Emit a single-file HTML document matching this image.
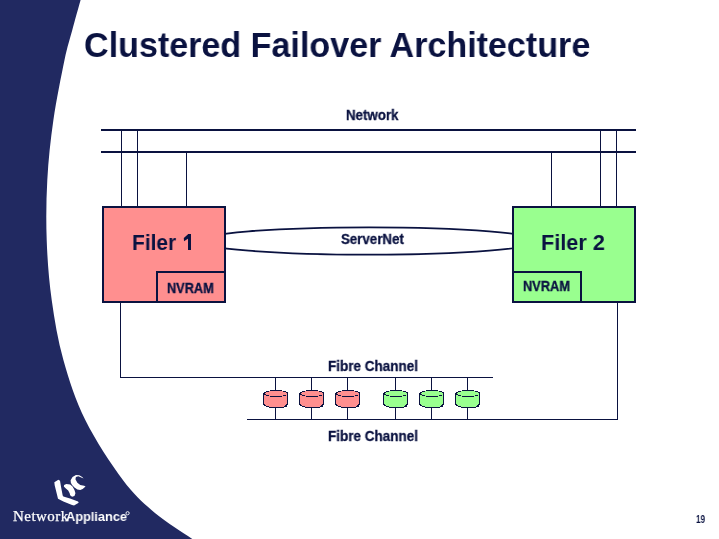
<!DOCTYPE html>
<html><head><meta charset="utf-8">
<style>
html,body{margin:0;padding:0;background:#fff;}
body{width:719px;height:539px;position:relative;overflow:hidden;font-family:"Liberation Sans",sans-serif;}
svg{position:absolute;left:0;top:0;}
.t{position:absolute;will-change:transform;white-space:nowrap;font-weight:700;color:#0a1240;line-height:1;transform-origin:0 0;}
</style></head><body>
<svg width="719" height="539" viewBox="0 0 719 539">
  <path fill="#212961" d="M0,-1 L80.6,0.0 C78.5,7.5 75.0,20.0 72.3,30.0 C69.6,40.0 67.7,45.0 64.5,60.0 C61.4,75.0 56.3,100.0 53.4,120.0 C50.5,140.0 48.4,160.0 47.3,180.0 C46.2,200.0 46.0,220.0 46.7,240.0 C47.4,260.0 48.9,280.0 51.7,300.0 C54.5,320.0 57.8,340.0 63.4,360.0 C69.0,380.0 75.4,400.0 85.3,420.0 C95.2,440.0 111.2,464.4 122.9,480.0 C134.6,495.6 144.0,503.7 155.6,513.5 C167.2,523.3 182.4,531.9 192.3,539.0 L192.3,540 L0,540 Z"/>
  <g stroke="#0a1240" fill="none" shape-rendering="crispEdges">
    <!-- network lines -->
    <rect x="101" y="129" width="535" height="2" fill="#0a1240" stroke="none"/>
    <rect x="101" y="151" width="535" height="2" fill="#0a1240" stroke="none"/>
    <rect x="121" y="131" width="1" height="75" fill="#0a1240" stroke="none"/>
    <rect x="137" y="131" width="1" height="75" fill="#0a1240" stroke="none"/>
    <rect x="186" y="153" width="1" height="53" fill="#0a1240" stroke="none"/>
    <rect x="551" y="153" width="1" height="53" fill="#0a1240" stroke="none"/>
    <rect x="600" y="131" width="1" height="75" fill="#0a1240" stroke="none"/>
    <rect x="616" y="131" width="1" height="75" fill="#0a1240" stroke="none"/>
    <!-- fibre lines -->
    <rect x="120" y="303" width="1" height="75" fill="#0a1240" stroke="none"/>
    <rect x="120" y="377" width="373" height="1" fill="#0a1240" stroke="none"/>
    <rect x="617" y="303" width="1" height="117" fill="#0a1240" stroke="none"/>
    <rect x="247" y="419" width="371" height="1" fill="#0a1240" stroke="none"/>
    <rect x="275" y="378" width="1" height="41" fill="#0a1240" stroke="none"/>
    <rect x="311" y="378" width="1" height="41" fill="#0a1240" stroke="none"/>
    <rect x="347" y="378" width="1" height="41" fill="#0a1240" stroke="none"/>
    <rect x="395" y="378" width="1" height="41" fill="#0a1240" stroke="none"/>
    <rect x="431" y="378" width="1" height="41" fill="#0a1240" stroke="none"/>
    <rect x="467" y="378" width="1" height="41" fill="#0a1240" stroke="none"/>
  </g>
  <!-- servernet ellipse -->
  <ellipse cx="369" cy="241" rx="170" ry="13.7" fill="none" stroke="#0a1240" stroke-width="1.8"/>
  <!-- boxes -->
  <g stroke="#0a1240" stroke-width="2" shape-rendering="crispEdges">
    <rect x="103" y="207" width="122" height="95" fill="#ff8f8f"/>
    <rect x="157" y="272" width="68" height="30" fill="#ff8f8f"/>
    <rect x="513" y="207" width="122" height="95" fill="#99ff8f"/>
    <rect x="513" y="272" width="68" height="30" fill="#99ff8f"/>
  </g>
  <!-- disks -->
  <g shape-rendering="crispEdges"><defs><g id="dfill"><rect x="6" y="1" width="14" height="1"/><rect x="3" y="2" width="20" height="1"/><rect x="2" y="14" width="21" height="1"/><rect x="3" y="15" width="19" height="1"/><rect x="6" y="16" width="15" height="1"/><rect x="1" y="3" width="23" height="1"/><rect x="1" y="4" width="23" height="1"/><rect x="1" y="5" width="23" height="1"/><rect x="1" y="6" width="23" height="1"/><rect x="1" y="7" width="23" height="1"/><rect x="1" y="8" width="23" height="1"/><rect x="1" y="9" width="23" height="1"/><rect x="1" y="10" width="23" height="1"/><rect x="1" y="11" width="23" height="1"/><rect x="1" y="12" width="23" height="1"/><rect x="1" y="13" width="23" height="1"/></g><g id="dline" fill="#0a1240"><rect x="7" y="0" width="12" height="1"/><rect x="3" y="1" width="3" height="1"/><rect x="20" y="1" width="3" height="1"/><rect x="1" y="2" width="2" height="1"/><rect x="23" y="2" width="2" height="1"/><rect x="0" y="3" width="2" height="1"/><rect x="24" y="3" width="1" height="1"/><rect x="0" y="4" width="3" height="1"/><rect x="24" y="4" width="1" height="1"/><rect x="0" y="5" width="1" height="1"/><rect x="3" y="5" width="3" height="1"/><rect x="20" y="5" width="3" height="1"/><rect x="24" y="5" width="1" height="1"/><rect x="0" y="6" width="1" height="1"/><rect x="7" y="6" width="12" height="1"/><rect x="24" y="6" width="1" height="1"/><rect x="0" y="7" width="1" height="1"/><rect x="24" y="7" width="1" height="1"/><rect x="0" y="8" width="1" height="1"/><rect x="24" y="8" width="1" height="1"/><rect x="0" y="9" width="1" height="1"/><rect x="24" y="9" width="1" height="1"/><rect x="0" y="10" width="1" height="1"/><rect x="24" y="10" width="1" height="1"/><rect x="0" y="11" width="1" height="1"/><rect x="24" y="11" width="1" height="1"/><rect x="0" y="12" width="1" height="1"/><rect x="24" y="12" width="1" height="1"/><rect x="0" y="13" width="1" height="1"/><rect x="24" y="13" width="1" height="1"/><rect x="0" y="14" width="2" height="1"/><rect x="23" y="14" width="2" height="1"/><rect x="1" y="15" width="2" height="1"/><rect x="22" y="15" width="2" height="1"/><rect x="3" y="16" width="3" height="1"/><rect x="21" y="16" width="3" height="1"/><rect x="6" y="17" width="15" height="1"/></g></defs><use href="#dfill" x="263" y="390" fill="#ff8f8f"/><use href="#dline" x="263" y="390"/><use href="#dfill" x="299" y="390" fill="#ff8f8f"/><use href="#dline" x="299" y="390"/><use href="#dfill" x="335" y="390" fill="#ff8f8f"/><use href="#dline" x="335" y="390"/><use href="#dfill" x="383" y="390" fill="#99ff8f"/><use href="#dline" x="383" y="390"/><use href="#dfill" x="419" y="390" fill="#99ff8f"/><use href="#dline" x="419" y="390"/><use href="#dfill" x="455" y="390" fill="#99ff8f"/><use href="#dline" x="455" y="390"/></g>
  <!-- filer 1 digit -->
  <g fill="#0a1240"><rect x="188" y="234" width="3" height="16" shape-rendering="crispEdges"/><path d="M188.3,234 L183.8,238 L184,241.2 L188.3,238.6 Z"/></g>
  <!-- logo mark -->
  <g fill="#fff">
    <path d="M54.34,482.35 L58.35,479.68 L60.02,480.68 L61.02,486.69 L62.69,495.38 L63.36,496.38 L70.03,498.38 L78.05,501.39 L78.71,502.72 L74.04,505.39 L72.04,505.06 L63.36,501.39 L58.01,498.71 L56.34,492.04 L54.67,485.36 Z"/>
    <path d="M64.1,485.1 L66.27,483.9 L70.13,484.6 L72.54,486.5 L74.47,489.9 L75.44,493.3 L74.47,495.9 L72.06,496.7 L70.13,495.2 L69.65,493.3 L68.2,490.4 L65.3,488 L63.86,486.5 Z"/>
    <path d="M70.61,480.27 L72.54,476.9 L75.92,474.96 L79.3,475.2 L82.19,476.9 L83.64,478.58 L81.23,477.38 L78.33,476.17 L75.92,476.9 L75.44,479.3 L77.37,482.68 L80.26,485.1 L84.12,485.8 L85.57,486.5 L82.67,488.95 L80.26,489.9 L77.37,489.4 L74.47,487.5 L72.06,485.1 L70.85,482.7 Z"/>
  </g>
</svg>
<div class="t" style="left:83.90px;top:27.80px;font-size:35.50px;transform:scaleX(0.9599);">Clustered Failover Architecture</div>
<div class="t" style="left:346.00px;top:108.40px;font-size:14.32px;transform:scaleX(0.9287);-webkit-text-stroke:0.3px #0a1240;">Network</div>
<div class="t" style="left:132.20px;top:230.50px;font-size:22.77px;transform:scaleX(0.9177);">Filer <span style="visibility:hidden">1</span></div>
<div class="t" style="left:541.30px;top:230.50px;font-size:22.77px;transform:scaleX(0.9509);">Filer 2</div>
<div class="t" style="left:341.00px;top:231.70px;font-size:14.00px;transform:scaleX(0.9500);-webkit-text-stroke:0.3px #0a1240;">ServerNet</div>
<div class="t" style="left:167.00px;top:280.70px;font-size:14.00px;transform:scaleX(0.9108);-webkit-text-stroke:0.3px #0a1240;">NVRAM</div>
<div class="t" style="left:523.00px;top:278.70px;font-size:14.00px;transform:scaleX(0.9143);-webkit-text-stroke:0.3px #0a1240;">NVRAM</div>
<div class="t" style="left:328.00px;top:359.40px;font-size:14.32px;transform:scaleX(0.9426);-webkit-text-stroke:0.3px #0a1240;">Fibre Channel</div>
<div class="t" style="left:328.00px;top:429.40px;font-size:14.32px;transform:scaleX(0.9426);-webkit-text-stroke:0.3px #0a1240;">Fibre Channel</div>
<div class="t" style="left:696.00px;top:513.70px;font-size:10.50px;transform:scaleX(0.7800);font-weight:700;">19</div>
<div style="position:absolute;will-change:transform;left:12.8px;top:509px;white-space:nowrap;color:#fff;line-height:1;font-family:'Liberation Serif',serif;font-size:15px;letter-spacing:0.45px;-webkit-text-stroke:0.25px #fff;">Network</div>
<div style="position:absolute;will-change:transform;left:65.6px;top:510.3px;white-space:nowrap;color:#fff;line-height:1;font-family:'Liberation Sans',sans-serif;font-weight:700;font-size:13.1px;transform:scaleX(0.975);transform-origin:0 0;">Appliance</div>
<svg style="position:absolute;left:0;top:0" width="719" height="539"><circle cx="127.6" cy="513.2" r="1.6" fill="none" stroke="#fff" stroke-width="0.9"/></svg>
</body></html>
